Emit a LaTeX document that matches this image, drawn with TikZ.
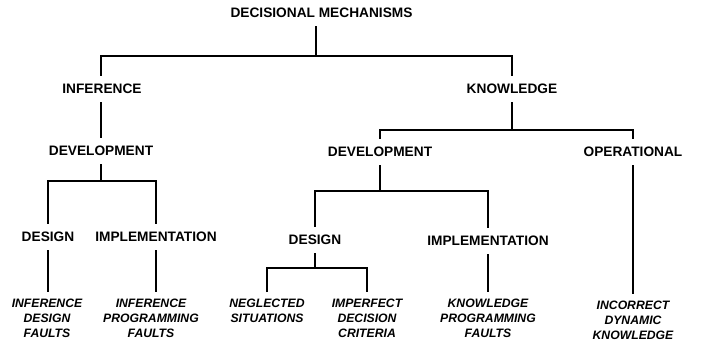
\documentclass[tikz,border=0pt]{standalone}
\usepackage{fontspec}
\setmainfont{Liberation Sans}
\begin{document}
\begin{tikzpicture}[x=1pt,y=-1pt,
  lbl/.style={font=\bfseries\fontsize{13.7}{16}\selectfont, text height=9.8pt, text depth=0pt, inner xsep=0pt, inner ysep=8pt},
  leaf/.style={font=\bfseries\itshape\fontsize{12.2}{15}\selectfont, align=center, anchor=north, inner xsep=0pt, inner ysep=6.5pt},
  conn/.style={line width=1.1pt}]
\useasboundingbox (0,0) rectangle (703,347);
% labels
\node[lbl] (root) at (321.5,13) {DECISIONAL MECHANISMS};
\node[lbl] (inf) at (102,89) {INFERENCE};
\node[lbl] (know) at (512,89) {KNOWLEDGE};
\node[lbl] (devL) at (101,151) {DEVELOPMENT};
\node[lbl] (devR) at (380,152) {DEVELOPMENT};
\node[lbl] (oper) at (633,152) {OPERATIONAL};
\node[lbl] (desL) at (48,237) {DESIGN};
\node[lbl] (implL) at (156,237) {IMPLEMENTATION};
\node[lbl] (desR) at (315,240) {DESIGN};
\node[lbl] (implR) at (488,241) {IMPLEMENTATION};
% leaves
\node[leaf] (ldf) at (47,292) {INFERENCE\\DESIGN\\FAULTS};
\node[leaf] (lpf) at (151,292) {INFERENCE\\PROGRAMMING\\FAULTS};
\node[leaf] (neg) at (267,292) {NEGLECTED\\SITUATIONS};
\node[leaf] (imp) at (367,292) {IMPERFECT\\DECISION\\CRITERIA};
\node[leaf] (kpf) at (488,292) {KNOWLEDGE\\PROGRAMMING\\FAULTS};
\node[leaf] (idk) at (633,294) {INCORRECT\\DYNAMIC\\KNOWLEDGE};
% junctions
\coordinate (j0) at (316,56);
\coordinate (j1) at (101,181);
\coordinate (j2) at (512,130);
\coordinate (j3) at (380,191);
\coordinate (j4) at (315,268);
% connectors
\draw[conn] (j0 |- root.south) -- (j0);
\draw[conn] (inf.north -| 101,0) |- (j0) -| (know.north);
\draw[conn] (inf.south -| 101,0) -- (devL.north);
\draw[conn] (devL.south) -- (j1);
\draw[conn] (desL.north) |- (j1) -| (implL.north);
\draw[conn] (desL.south) -- (desL.south |- ldf.north);
\draw[conn] (implL.south) -- (implL.south |- lpf.north);
\draw[conn] (know.south) -- (j2);
\draw[conn] (devR.north) |- (j2) -| (oper.north);
\draw[conn] (devR.south) -- (j3);
\draw[conn] (desR.north) |- (j3) -| (implR.north);
\draw[conn] (desR.south) -- (j4);
\draw[conn] (neg.north) |- (j4) -| (imp.north);
\draw[conn] (implR.south) -- (kpf.north);
\draw[conn] (oper.south) -- (idk.north);
\end{tikzpicture}
\end{document}
